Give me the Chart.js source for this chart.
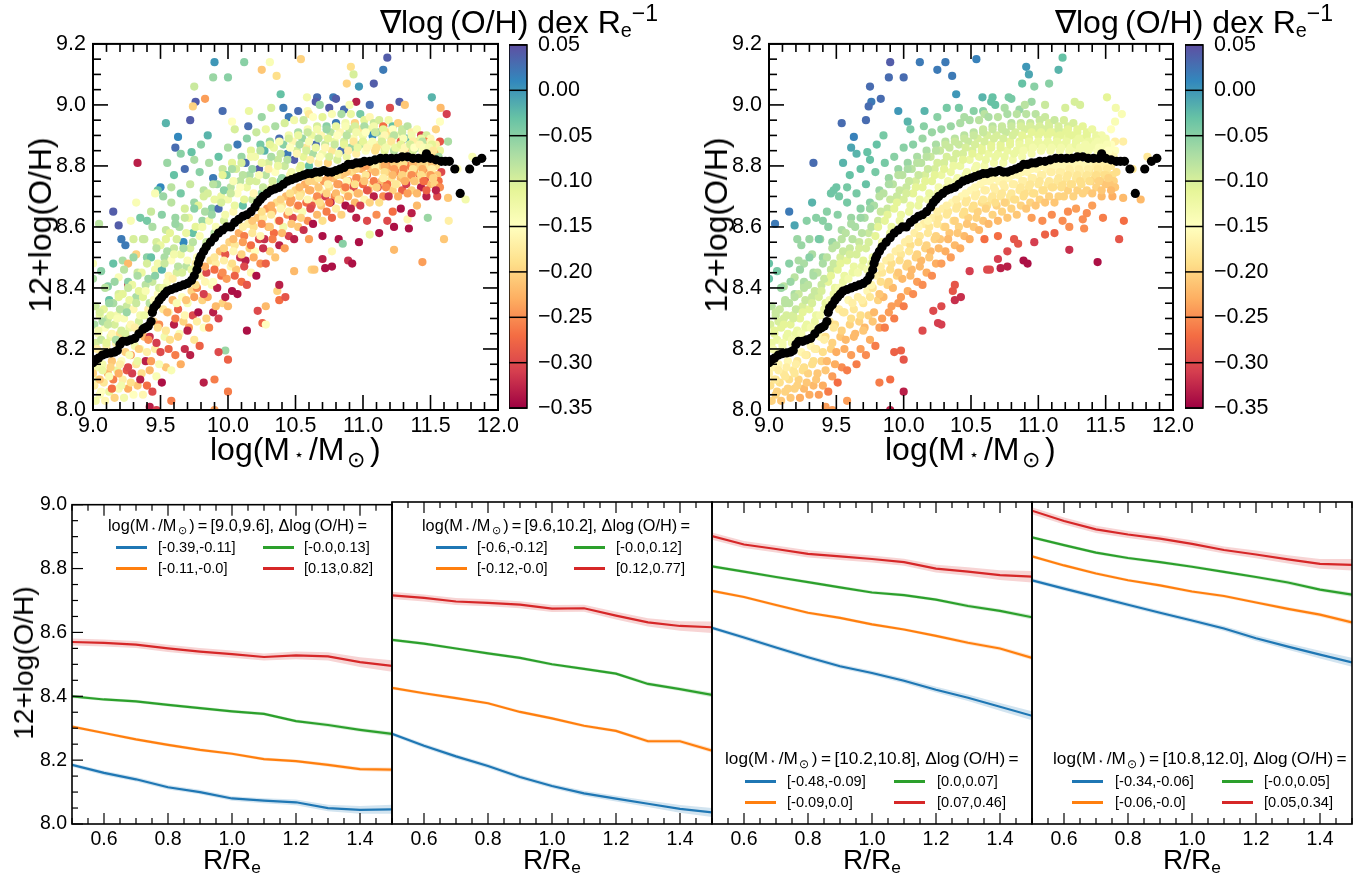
<!DOCTYPE html>
<html>
<head>
<meta charset="utf-8">
<script src="https://cdn.jsdelivr.net/npm/chart.js"></script>
<style>
body { margin: 0; background: #fff; font-family: "Liberation Sans", Arial, sans-serif; color: #000; }
#page { position: relative; width: 1369px; height: 877px; overflow: hidden; }
canvas { position: absolute; }
.txt { position: absolute; white-space: nowrap; line-height: 1; }
.txt sub { font-size: 62%; vertical-align: -0.22em; line-height: 0; }
.txt sub.star { font-size: 50%; vertical-align: 0; margin: 0 .28em; }
.txt sub.sun { font-size: 68%; vertical-align: -0.3em; margin: 0 .22em 0 .12em; }
.txt sup { font-size: 72%; vertical-align: 0.5em; line-height: 0; }
.rot { transform: translate(-50%, -50%) rotate(-90deg); }
.swatch { position: absolute; height: 2.5px; width: 31px; }
</style>
</head>
<body>
<div id="page"></div>
<script>
// scatter (same galaxies in both, coloured differently)
const logMass = [
9.90,10.12,10.31,10.54,10.25,10.36,9.89,10.00,9.75,10.91,
10.93,11.18,11.15,11.08,10.88,10.97,10.39,10.585,10.66,10.65,
10.68,10.78,10.80,9.83,9.76,9.74,10.95,10.86,11.27,11.31,
11.51,11.575,11.62,11.57,11.54,11.63,11.57,9.96,10.155,10.32,
10.41,10.52,10.59,9.72,10.03,9.54,9.63,9.61,9.65,9.73,
9.55,9.33,9.15,9.045,9.19,9.32,9.50,9.48,9.46,9.28,
9.35,9.21,9.24,9.38,9.00,9.06,9.00,9.22,9.26,9.32,
9.19,9.26,9.11,10.00,9.90,10.00,9.98,9.93,9.90,9.82,
10.14,10.255,10.28,10.22,10.28,10.38,10.425,10.365,10.38,10.49,
10.62,10.64,10.70,10.72,10.77,10.89,10.92,11.44,11.23,10.97,
10.77,10.82,10.85,11.05,11.12,11.60,11.635,11.48,11.34,11.33,
11.36,11.22,11.23,11.76,11.63,11.70,11.81,9.42,9.47,9.58,
10.95,11.03,11.10,11.18,11.28,11.40,11.47,11.55,10.60,10.70,
9.85,10.05,10.15,10.25,10.45,10.60,10.75,10.90,11.05,11.20,
9.60,9.68,9.75,9.80,9.58,9.52,9.43,9.40,9.30,9.15,
9.02,9.05,9.01,9.04,9.02,9.06,9.03,9.00,9.04,9.01,9.05,9.02,
9.09,9.12,9.08,9.11,9.09,9.13,9.10,9.07,9.11,9.08,9.12,9.09,
9.16,9.19,9.15,9.18,9.16,9.20,9.17,9.14,9.18,9.15,9.19,9.16,
9.23,9.26,9.22,9.25,9.23,9.27,9.24,9.21,9.25,9.22,9.26,9.23,
9.30,9.33,9.29,9.32,9.30,9.34,9.31,9.28,9.32,9.29,9.33,9.30,
9.37,9.40,9.36,9.39,9.37,9.41,9.38,9.35,9.39,9.36,9.40,9.37,
9.44,9.47,9.43,9.46,9.44,9.48,9.45,9.42,9.46,9.43,9.47,9.44,
9.51,9.54,9.50,9.53,9.51,9.55,9.52,9.49,9.53,9.50,9.54,9.51,
9.58,9.61,9.57,9.60,9.58,9.62,9.59,9.56,9.60,9.57,9.61,9.58,
9.65,9.68,9.64,9.67,9.65,9.69,9.66,9.63,9.67,9.64,9.68,9.65,
9.72,9.75,9.71,9.74,9.72,9.76,9.73,9.70,9.74,9.71,9.75,9.72,
9.79,9.82,9.78,9.81,9.79,9.83,9.80,9.77,9.81,9.78,9.82,9.79,
9.86,9.89,9.85,9.88,9.86,9.90,9.87,9.84,9.88,9.85,9.89,9.86,
9.93,9.96,9.92,9.95,9.93,9.97,9.94,9.91,9.95,9.92,9.96,9.93,
10.00,10.03,9.99,10.02,10.00,10.04,10.01,9.98,10.02,9.99,10.03,10.00,
10.07,10.10,10.06,10.09,10.07,10.11,10.08,10.05,10.09,10.06,10.10,10.07,
10.14,10.17,10.13,10.16,10.14,10.18,10.15,10.12,10.16,10.13,10.17,10.14,
10.21,10.24,10.20,10.23,10.21,10.25,10.22,10.19,10.23,10.20,10.24,10.21,
10.28,10.31,10.27,10.30,10.28,10.32,10.29,10.26,10.30,10.27,10.31,10.28,
10.35,10.38,10.34,10.37,10.35,10.39,10.36,10.33,10.37,10.34,10.38,10.35,
10.42,10.45,10.41,10.44,10.42,10.46,10.43,10.40,10.44,10.41,10.45,10.42,
10.49,10.52,10.48,10.51,10.49,10.53,10.50,10.47,10.51,10.48,10.52,10.49,
10.56,10.59,10.55,10.58,10.56,10.60,10.57,10.54,10.58,10.55,10.59,10.56,
10.63,10.66,10.62,10.65,10.63,10.67,10.64,10.61,10.65,10.62,10.66,10.63,
10.70,10.73,10.69,10.72,10.70,10.74,10.71,10.68,10.72,10.69,10.73,10.70,
10.77,10.80,10.76,10.79,10.77,10.81,10.78,10.75,10.79,10.76,10.80,10.77,
10.84,10.87,10.83,10.86,10.84,10.88,10.85,10.82,10.86,10.83,10.87,10.84,
10.91,10.94,10.90,10.93,10.91,10.95,10.92,10.89,10.93,10.90,10.94,10.91,
10.98,11.01,10.97,11.00,10.98,11.02,10.99,10.96,11.00,10.97,11.01,10.98,
11.05,11.08,11.04,11.07,11.05,11.09,11.06,11.03,11.07,11.04,11.08,11.05,
11.12,11.15,11.11,11.14,11.12,11.16,11.13,11.10,11.14,11.11,11.15,11.12,
11.19,11.22,11.18,11.21,11.19,11.23,11.20,11.17,11.21,11.18,11.22,11.19,
11.26,11.29,11.25,11.28,11.26,11.30,11.27,11.24,11.28,11.25,11.29,11.26,
11.33,11.36,11.32,11.35,11.33,11.37,11.34,11.31,11.35,11.32,11.36,11.33,
11.40,11.43,11.39,11.42,11.40,11.44,11.41,11.38,11.42,11.39,11.43,11.40,
11.47,11.50,11.46,11.49,11.47,11.51,11.48,11.45,11.49,11.46,11.50,11.47,
11.54,11.57,11.53,11.56,11.54,11.58,11.55,11.52,11.56,11.53,11.57,11.54,
9.05,9.07,9.04,9.06,9.03,9.07,9.05,9.06,
9.12,9.13,9.11,9.14,9.10,9.13,9.12,9.14,
9.19,9.20,9.18,9.21,9.17,9.20,9.19,9.21,
9.26,9.27,9.25,9.28,9.24,9.27,9.26,9.28,
9.33,9.34,9.32,9.35,9.31,9.34,9.33,9.35,
9.40,9.41,9.39,9.42,9.38,9.41,9.40,9.42,
9.47,9.48,9.46,9.49,9.45,9.48,9.47,9.49,
9.54,9.55,9.53,9.56,9.52,9.55,9.54,9.56,
9.61,9.62,9.60,9.63,9.59,9.62,9.61,9.63,
9.68,9.69,9.67,9.70,9.66,9.69,9.68,9.70,
9.75,9.76,9.74,9.77,9.73,9.76,9.75,9.77,
9.82,9.83,9.81,9.84,9.83,9.83,9.82,9.84,
9.89,9.90,9.88,9.91,9.90,9.90,9.89,9.91,
9.96,9.97,9.95,9.98,9.97,9.97,9.96,9.98,
10.03,10.04,10.02,10.05,10.04,10.04,10.03,10.05,
10.10,10.11,10.09,10.12,10.11,10.11,10.10,10.12,
10.17,10.18,10.16,10.19,10.18,10.18,10.17,10.19,
10.24,10.25,10.23,10.26,10.25,10.25,10.24,10.26,
10.31,10.32,10.30,10.33,10.32,10.32,10.31,10.33,
10.38,10.39,10.37,10.40,10.39,10.39,10.38,10.40,
10.45,10.46,10.44,10.47,10.46,10.46,10.45,10.47,
10.52,10.53,10.51,10.54,10.53,10.53,10.52,10.54,
10.59,10.60,10.58,10.61,10.60,10.60,10.59,10.61,
10.66,10.67,10.65,10.68,10.67,10.67,10.66,10.68,
10.73,10.74,10.72,10.75,10.74,10.74,10.73,10.75,
10.80,10.81,10.79,10.82,10.81,10.81,10.80,10.82,
10.87,10.88,10.86,10.89,10.88,10.88,10.87,10.89,
10.94,10.95,10.93,10.96,10.95,10.95,10.94,10.96,
11.01,11.02,11.00,11.03,11.02,11.02,11.01,11.03,
11.08,11.09,11.07,11.10,11.09,11.09,11.08,11.10,
11.15,11.16,11.14,11.17,11.16,11.16,11.15,11.17,
11.22,11.23,11.21,11.24,11.23,11.23,11.22,11.24,
11.29,11.30,11.28,11.31,11.30,11.30,11.29,11.31,
11.36,11.37,11.35,11.38,11.37,11.37,11.36,11.38,
11.43,11.44,11.42,11.45,11.44,11.44,11.43,11.45,
11.50,11.51,11.49,11.52,11.51,11.51,11.50,11.52
];
const logOH = [
9.14,9.14,9.14,9.15,9.115,9.095,9.09,9.09,9.06,9.125,
9.10,9.155,9.115,9.07,9.07,9.06,9.035,9.025,9.025,9.01,
9.0,9.025,9.02,9.02,9.01,8.995,9.01,8.985,9.01,9.0,
9.025,8.99,8.97,8.945,8.92,8.88,8.88,8.98,8.98,8.99,
8.99,8.98,8.98,8.95,8.945,8.94,8.895,8.86,8.84,8.845,
8.81,8.81,8.65,8.61,8.605,8.68,8.73,8.72,8.71,8.62,
8.63,8.56,8.54,8.56,8.48,8.455,8.43,8.49,8.48,8.51,
8.435,8.41,8.405,8.06,8.0,8.165,8.195,8.19,8.10,8.09,
8.26,8.285,8.28,8.325,8.34,8.36,8.37,8.39,8.41,8.455,
8.46,8.46,8.495,8.465,8.47,8.49,8.48,8.485,8.525,8.55,
8.52,8.56,8.545,8.575,8.58,8.56,8.62,8.63,8.595,8.625,
8.645,8.65,8.60,8.69,8.695,8.79,8.83,8.01,8.00,8.03,
8.63,8.62,8.64,8.62,8.66,8.67,8.70,8.70,8.56,8.57,
8.90,8.92,8.93,8.96,8.96,8.97,8.99,9.0,9.0,8.99,
8.77,8.79,8.82,8.87,8.73,8.70,8.65,8.62,8.56,8.48,
8.34,8.31,8.28,8.25,8.22,8.19,8.14,8.12,8.10,8.08,8.05,8.03,
8.40,8.36,8.33,8.30,8.27,8.24,8.21,8.15,8.12,8.09,8.06,8.03,
8.42,8.38,8.35,8.31,8.28,8.25,8.22,8.16,8.13,8.10,8.07,8.04,
8.46,8.42,8.38,8.34,8.30,8.27,8.19,8.16,8.13,8.10,8.07,8.04,
8.50,8.45,8.41,8.37,8.33,8.29,8.21,8.18,8.15,8.12,8.08,8.05,
8.56,8.50,8.45,8.41,8.37,8.33,8.24,8.20,8.16,8.12,8.08,8.05,
8.60,8.55,8.50,8.46,8.42,8.38,8.29,8.24,8.20,8.16,8.11,8.06,
8.64,8.59,8.54,8.50,8.46,8.42,8.33,8.28,8.24,8.19,8.14,8.09,
8.68,8.63,8.58,8.53,8.49,8.45,8.36,8.32,8.28,8.23,8.18,8.13,
8.71,8.66,8.60,8.55,8.51,8.47,8.37,8.33,8.29,8.25,8.20,8.15,
8.74,8.68,8.63,8.58,8.53,8.48,8.39,8.35,8.31,8.27,8.23,8.18,
8.78,8.72,8.67,8.62,8.57,8.53,8.44,8.40,8.36,8.32,8.27,8.21,
8.81,8.76,8.71,8.66,8.62,8.58,8.49,8.45,8.41,8.37,8.32,8.27,
8.83,8.79,8.74,8.70,8.66,8.62,8.52,8.48,8.44,8.40,8.35,8.30,
8.86,8.81,8.77,8.73,8.69,8.65,8.55,8.51,8.47,8.43,8.39,8.34,
8.87,8.83,8.79,8.75,8.71,8.67,8.58,8.54,8.50,8.46,8.42,8.38,
8.89,8.85,8.81,8.77,8.73,8.69,8.61,8.57,8.53,8.49,8.45,8.41,
8.91,8.87,8.83,8.79,8.75,8.71,8.63,8.60,8.56,8.52,8.48,8.44,
8.92,8.88,8.85,8.81,8.77,8.73,8.66,8.63,8.60,8.56,8.52,8.48,
8.93,8.89,8.86,8.82,8.78,8.75,8.68,8.65,8.62,8.58,8.54,8.50,
8.94,8.90,8.87,8.84,8.80,8.77,8.70,8.67,8.64,8.60,8.57,8.53,
8.95,8.91,8.88,8.85,8.82,8.79,8.72,8.69,8.66,8.63,8.60,8.56,
8.95,8.92,8.89,8.86,8.83,8.80,8.74,8.71,8.68,8.65,8.62,8.59,
8.96,8.93,8.90,8.87,8.84,8.81,8.75,8.72,8.69,8.67,8.64,8.61,
8.96,8.93,8.90,8.87,8.84,8.81,8.75,8.72,8.70,8.67,8.65,8.62,
8.97,8.94,8.91,8.88,8.85,8.82,8.76,8.73,8.70,8.68,8.66,8.63,
8.97,8.94,8.91,8.88,8.85,8.83,8.77,8.74,8.72,8.69,8.67,8.64,
8.97,8.94,8.92,8.89,8.86,8.84,8.78,8.75,8.73,8.71,8.68,8.66,
8.97,8.95,8.92,8.90,8.87,8.85,8.79,8.76,8.74,8.71,8.69,8.67,
8.96,8.94,8.92,8.90,8.87,8.85,8.79,8.77,8.74,8.72,8.70,8.68,
8.95,8.93,8.91,8.89,8.87,8.85,8.80,8.78,8.75,8.73,8.70,8.68,
8.95,8.93,8.91,8.89,8.87,8.85,8.80,8.78,8.76,8.74,8.72,8.70,
8.94,8.92,8.90,8.88,8.86,8.85,8.80,8.78,8.76,8.74,8.72,8.70,
8.93,8.91,8.89,8.87,8.86,8.85,8.80,8.78,8.76,8.74,8.72,8.71,
8.92,8.90,8.88,8.87,8.86,8.85,8.80,8.78,8.76,8.75,8.73,8.71,
8.90,8.89,8.88,8.87,8.86,8.85,8.80,8.78,8.77,8.75,8.74,8.72,
8.87,8.85,8.84,8.83,8.80,8.78,8.77,8.76,8.75,8.74,8.73,8.72,
8.32,8.29,8.26,8.23,8.20,8.13,8.10,8.06,
8.35,8.31,8.28,8.25,8.22,8.14,8.11,8.07,
8.37,8.33,8.30,8.26,8.23,8.15,8.12,8.08,
8.40,8.36,8.32,8.28,8.25,8.18,8.14,8.09,
8.44,8.39,8.35,8.31,8.27,8.20,8.16,8.10,
8.48,8.43,8.39,8.35,8.31,8.23,8.19,8.13,
8.53,8.48,8.44,8.40,8.36,8.27,8.22,8.15,
8.56,8.52,8.48,8.44,8.40,8.32,8.26,8.20,
8.61,8.56,8.51,8.47,8.43,8.35,8.30,8.24,
8.63,8.58,8.53,8.49,8.45,8.36,8.31,8.26,
8.66,8.60,8.55,8.50,8.46,8.41,8.37,8.29,
8.70,8.65,8.60,8.55,8.47,8.42,8.38,8.30,
8.74,8.69,8.64,8.60,8.50,8.46,8.42,8.34,
8.77,8.72,8.68,8.64,8.53,8.49,8.45,8.37,
8.79,8.75,8.71,8.67,8.56,8.52,8.48,8.44,
8.81,8.77,8.73,8.69,8.60,8.55,8.51,8.47,
8.83,8.79,8.75,8.71,8.62,8.58,8.54,8.50,
8.85,8.81,8.77,8.73,8.65,8.61,8.57,8.53,
8.87,8.83,8.79,8.75,8.67,8.64,8.60,8.56,
8.88,8.84,8.80,8.76,8.69,8.66,8.62,8.58,
8.89,8.86,8.82,8.78,8.71,8.68,8.65,8.61,
8.90,8.87,8.84,8.80,8.73,8.70,8.67,8.63,
8.91,8.88,8.85,8.82,8.75,8.72,8.69,8.66,
8.92,8.89,8.86,8.83,8.76,8.73,8.70,8.68,
8.92,8.89,8.86,8.83,8.76,8.74,8.71,8.68,
8.93,8.90,8.87,8.84,8.77,8.74,8.71,8.69,
8.93,8.90,8.87,8.85,8.78,8.75,8.73,8.70,
8.93,8.91,8.88,8.86,8.79,8.76,8.74,8.71,
8.93,8.91,8.88,8.86,8.80,8.77,8.75,8.72,
8.93,8.91,8.88,8.86,8.80,8.78,8.75,8.73,
8.92,8.90,8.88,8.86,8.80,8.78,8.76,8.73,
8.92,8.90,8.88,8.86,8.81,8.79,8.77,8.74,
8.91,8.89,8.87,8.86,8.81,8.79,8.77,8.75,
8.90,8.88,8.87,8.86,8.81,8.79,8.77,8.75,
8.89,8.88,8.87,8.86,8.81,8.79,8.77,8.75,
8.88,8.87,8.86,8.85,8.81,8.79,8.77,8.76
];
// gradient colour in the left panel
const gradMixed = [
0,-.05,-.14,-.2,-.21,-.19,-.06,-.05,-.09,-.19,
-.1,.04,.02,.04,-.2,0,-.03,-.13,.03,.04,
-.06,.02,.04,-.24,.04,-.2,-.33,.03,.04,-.21,
-.02,-.22,-.31,-.15,-.2,-.07,-.29,.03,-.12,-.1,
.02,.03,-.14,.04,-.15,-.02,.01,.03,-.05,-.03,
-.06,-.33,.04,-.08,.04,-.14,.01,-.03,-.14,-.14,
-.04,.02,.02,-.09,-.14,-.05,-.07,-.07,-.22,-.2,
-.14,-.32,-.05,-.26,-.24,-.28,-.06,-.3,-.26,-.33,
-.34,-.28,-.15,-.3,-.22,-.27,-.29,-.2,-.33,-.22,
-.2,-.21,-.33,-.34,-.34,-.32,-.34,-.24,-.22,-.34,
-.16,-.34,-.05,-.12,-.34,-.21,-.17,-.06,-.34,-.16,
-.33,-.27,-.34,-.13,-.21,-.15,-.14,-.33,-.31,-.26,
-.33,-.3,-.25,-.3,-.34,-.22,-.33,-.3,-.24,-.34,
-.02,-.1,.03,-.06,.02,-.18,.04,-.14,.03,-.3,
-.03,.03,-.07,-.05,-.08,-.06,-.09,-.04,-.1,-.03,
-.09,-.12,-.07,-.14,-.1,-.16,-.13,-.2,-.11,-.17,-.14,-.13,
-.08,-.03,-.11,-.09,-.15,-.12,-.17,-.13,-.22,-.18,-.12,-.16,
-.06,-.1,-.07,-.13,-.1,-.19,-.16,-.21,-.12,-.26,-.14,-.2,
-.08,-.05,-.11,-.09,-.14,-.12,-.2,-.15,-.29,-.17,-.23,-.13,
-.06,-.09,-.12,-.07,-.16,-.1,-.13,-.24,-.18,-.31,-.21,-.15,
-.09,-.05,-.12,-.08,-.11,-.17,-.22,-.14,-.33,-.19,-.27,-.16,
-.07,-.1,-.03,-.13,-.09,-.15,-.2,-.32,-.17,-.24,-.14,-.3,
-.05,-.09,-.12,-.07,-.02,-.14,-.18,-.25,-.13,-.3,-.21,-.34,
-.08,-.06,-.11,-.09,-.15,-.1,-.22,-.16,-.33,-.19,-.26,-.14,
-.04,-.1,-.07,.01,-.12,-.08,-.15,-.28,-.2,-.14,-.32,-.23,
-.09,-.06,-.12,-.03,-.1,-.17,-.2,-.14,-.3,-.24,-.18,-.33,
-.05,-.08,-.11,-.06,-.14,-.09,-.16,-.25,-.2,-.34,-.15,-.28,
-.07,.02,-.1,-.05,-.13,-.08,-.19,-.3,-.14,-.23,-.33,-.26,
-.03,-.09,-.06,-.12,.03,-.1,-.22,-.17,-.27,-.33,-.2,-.31,
-.07,-.11,-.04,-.08,-.13,-.16,-.2,-.29,-.16,-.24,-.34,-.22,
.02,-.06,-.1,-.08,-.15,-.03,-.23,-.18,-.32,-.21,-.27,-.34,
-.05,-.11,.03,-.07,-.12,-.09,-.17,-.26,-.2,-.33,-.16,-.29,
-.09,-.04,-.13,.04,-.1,-.06,-.21,-.19,-.3,-.15,-.25,-.34,
-.12,-.06,-.02,-.1,-.08,-.14,-.24,-.17,-.22,-.32,-.2,-.28,
-.07,.03,-.12,-.09,-.15,-.05,-.19,-.23,-.16,-.27,-.33,-.21,
-.1,-.13,-.05,.02,-.09,-.16,-.22,-.18,-.25,-.13,-.31,-.24,
-.13,-.07,-.16,-.1,.04,-.12,-.2,-.24,-.17,-.3,-.21,-.33,
-.09,-.14,-.06,-.18,-.11,-.03,-.23,-.19,-.27,-.14,-.25,-.32,
-.15,-.1,-.12,.03,-.07,-.17,-.2,-.23,-.18,-.29,-.22,-.34,
-.11,-.05,-.16,-.09,-.13,-.2,-.24,-.17,-.31,-.21,-.26,-.19,
-.14,.02,-.08,-.12,-.18,-.1,-.22,-.19,-.25,-.33,-.17,-.28,
-.07,-.13,-.16,-.1,.03,-.12,-.21,-.25,-.18,-.23,-.34,-.2,
-.12,-.2,-.09,-.14,-.06,-.17,-.19,-.24,-.3,-.16,-.22,-.33,
-.04,-.11,-.18,-.13,-.08,-.15,-.23,-.2,-.27,-.21,-.16,-.31,
-.16,-.09,-.12,.01,-.14,-.19,-.21,-.26,-.18,-.24,-.33,-.2,
-.1,-.27,-.06,-.13,-.17,-.11,-.2,-.17,-.22,-.29,-.25,-.19,
-.13,-.03,-.19,-.1,-.15,-.08,-.24,-.21,-.18,-.27,-.2,-.32,
-.2,-.09,-.14,-.29,-.12,-.16,-.19,-.25,-.22,-.17,-.28,-.23,
-.08,-.17,-.02,-.13,-.22,-.1,-.26,-.18,-.21,-.31,-.2,-.24,
-.14,-.31,-.11,-.19,-.07,-.15,-.2,-.23,-.27,-.18,-.33,-.22,
-.1,-.16,-.26,-.09,-.2,-.13,-.18,-.25,-.19,-.3,-.22,-.28,
-.17,-.12,-.23,-.07,-.19,-.3,-.21,-.16,-.27,-.2,-.25,-.33,
-.1,-.07,-.13,-.09,-.17,-.12,-.21,-.15,
-.06,-.12,-.09,-.16,-.11,-.2,-.14,-.27,
-.11,-.08,-.14,-.1,-.07,-.17,-.23,-.13,
-.09,-.12,-.06,-.16,-.1,-.14,-.3,-.19,
-.07,-.11,-.09,-.13,-.17,-.2,-.12,-.33,
-.1,-.06,-.14,-.08,-.12,-.25,-.17,-.22,
-.08,-.13,-.05,-.1,-.15,-.19,-.31,-.14,
-.11,-.07,-.09,-.16,-.12,-.22,-.18,-.28,
-.06,-.1,-.13,-.08,-.17,-.14,-.26,-.2,
-.09,-.12,-.07,-.14,-.1,-.21,-.16,-.33,
-.05,-.11,-.08,-.15,-.12,-.19,-.24,-.17,
-.1,-.07,-.13,-.09,-.23,-.16,-.31,-.2,
-.08,-.12,-.06,-.14,-.18,-.27,-.15,-.22,
-.11,-.05,-.1,-.13,-.2,-.17,-.25,-.33,
-.07,-.14,-.09,-.12,-.22,-.16,-.19,-.28,
-.1,-.08,-.15,-.11,-.17,-.24,-.2,-.3,
-.13,-.06,-.1,-.16,-.21,-.18,-.27,-.23,
-.08,-.12,-.14,-.09,-.19,-.25,-.16,-.32,
-.11,-.07,-.17,-.1,-.23,-.18,-.21,-.26,
-.14,-.09,-.12,-.06,-.2,-.16,-.28,-.22,
-.1,-.15,-.08,-.13,-.19,-.24,-.17,-.21,
-.12,-.07,-.16,-.11,-.22,-.18,-.26,-.2,
-.09,-.14,-.1,-.17,-.2,-.23,-.16,-.3,
-.13,-.08,-.12,-.15,-.18,-.21,-.25,-.19,
-.06,-.11,-.16,-.1,-.23,-.17,-.2,-.27,
-.12,-.15,-.09,-.13,-.19,-.24,-.22,-.18,
-.14,-.08,-.11,-.17,-.21,-.16,-.26,-.23,
-.1,-.13,-.18,-.12,-.2,-.25,-.19,-.22,
-.07,-.15,-.11,-.16,-.24,-.18,-.21,-.29,
-.13,-.09,-.14,-.19,-.17,-.22,-.26,-.2,
-.11,-.16,-.1,-.13,-.23,-.19,-.17,-.25,
-.15,-.08,-.18,-.12,-.2,-.24,-.22,-.18,
-.09,-.14,-.11,-.16,-.19,-.26,-.2,-.23,
-.13,-.17,-.1,-.15,-.22,-.18,-.25,-.21,
-.12,-.08,-.16,-.14,-.2,-.23,-.19,-.27,
-.16,-.11,-.13,-.18,-.21,-.17,-.24,-.2
];
// gradient colour in the right panel
const gradOrdered = [
.04,.02,.02,.015,.02,.02,.03,.03,.03,0,
-.01,-.03,-.02,-.05,-.03,-.05,0,-.02,-.03,-.03,
-.03,-.04,-.04,.03,.02,.03,-.06,-.06,-.1,-.1,
-.11,-.13,-.14,-.14,-.15,-.17,-.17,0,-.02,-.04,
-.04,-.05,-.05,.03,-.02,.03,.015,-.01,-.02,-.03,
-.02,.03,.02,.02,-.01,-.02,-.035,-.035,-.035,-.05,
-.05,-.06,-.06,-.06,-.03,-.04,-.03,-.07,-.07,-.07,
-.08,-.08,-.08,-.33,-.33,-.29,-.28,-.28,-.27,-.26,
-.3,-.31,-.31,-.3,-.3,-.32,-.32,-.29,-.29,-.31,
-.3,-.3,-.31,-.33,-.33,-.34,-.34,-.34,-.32,-.31,
-.3,-.29,-.29,-.28,-.28,-.29,-.27,-.26,-.25,-.25,
-.25,-.25,-.25,-.22,-.22,-.18,-.18,-.24,-.24,-.24,
-.24,-.25,-.25,-.25,-.24,-.24,-.22,-.23,-.27,-.27,
-.04,-.04,-.05,-.05,-.07,-.08,-.07,-.08,-.09,-.1,
-.03,-.03,-.03,-.03,-.04,-.04,-.05,-.05,-.06,-.05,
-.08,-.09,-.10,-.11,-.12,-.13,-.16,-.17,-.18,-.19,-.20,-.2,
-.06,-.08,-.09,-.10,-.11,-.12,-.13,-.16,-.18,-.19,-.2,-.21,
-.06,-.07,-.08,-.10,-.11,-.12,-.13,-.16,-.18,-.19,-.2,-.21,
-.06,-.07,-.09,-.10,-.11,-.12,-.16,-.18,-.19,-.2,-.22,-.23,
-.05,-.07,-.08,-.09,-.11,-.12,-.16,-.18,-.19,-.2,-.22,-.23,
-.04,-.06,-.08,-.09,-.1,-.12,-.16,-.18,-.2,-.21,-.23,-.24,
-.05,-.06,-.08,-.09,-.11,-.12,-.17,-.19,-.2,-.22,-.24,-.26,
-.05,-.07,-.08,-.1,-.11,-.12,-.17,-.19,-.21,-.23,-.25,-.27,
-.04,-.06,-.08,-.09,-.11,-.12,-.16,-.18,-.2,-.22,-.24,-.26,
-.04,-.05,-.07,-.09,-.1,-.12,-.17,-.18,-.2,-.22,-.24,-.26,
-.03,-.05,-.07,-.09,-.10,-.12,-.16,-.18,-.2,-.22,-.23,-.25,
-.04,-.06,-.07,-.09,-.11,-.12,-.17,-.18,-.2,-.22,-.24,-.26,
-.04,-.06,-.08,-.09,-.11,-.12,-.17,-.18,-.2,-.22,-.24,-.26,
-.05,-.06,-.08,-.09,-.11,-.12,-.17,-.19,-.2,-.22,-.24,-.26,
-.05,-.06,-.08,-.09,-.1,-.12,-.17,-.18,-.2,-.22,-.23,-.26,
-.05,-.07,-.08,-.1,-.11,-.12,-.17,-.19,-.2,-.22,-.24,-.25,
-.06,-.07,-.08,-.1,-.11,-.13,-.17,-.18,-.2,-.22,-.23,-.25,
-.06,-.07,-.09,-.1,-.11,-.13,-.17,-.18,-.2,-.22,-.23,-.25,
-.06,-.08,-.09,-.1,-.12,-.13,-.17,-.18,-.19,-.21,-.23,-.24,
-.06,-.08,-.09,-.1,-.12,-.13,-.16,-.18,-.19,-.21,-.22,-.24,
-.07,-.08,-.09,-.1,-.12,-.13,-.16,-.18,-.19,-.2,-.22,-.23,
-.07,-.08,-.09,-.1,-.12,-.13,-.16,-.18,-.19,-.2,-.21,-.23,
-.08,-.09,-.1,-.11,-.12,-.13,-.16,-.17,-.19,-.2,-.21,-.22,
-.07,-.08,-.1,-.11,-.12,-.13,-.16,-.17,-.18,-.19,-.2,-.22,
-.08,-.09,-.1,-.11,-.12,-.13,-.16,-.17,-.18,-.2,-.2,-.22,
-.07,-.08,-.09,-.11,-.12,-.13,-.16,-.17,-.18,-.19,-.2,-.21,
-.08,-.09,-.1,-.11,-.12,-.13,-.16,-.17,-.18,-.19,-.2,-.21,
-.08,-.09,-.1,-.11,-.12,-.13,-.16,-.17,-.18,-.19,-.2,-.21,
-.08,-.09,-.1,-.11,-.12,-.13,-.16,-.17,-.18,-.19,-.2,-.21,
-.09,-.1,-.1,-.11,-.12,-.13,-.16,-.17,-.18,-.19,-.2,-.21,
-.09,-.1,-.11,-.11,-.12,-.13,-.16,-.17,-.18,-.19,-.2,-.21,
-.1,-.1,-.11,-.12,-.12,-.13,-.16,-.17,-.18,-.19,-.2,-.2,
-.1,-.11,-.11,-.12,-.13,-.13,-.16,-.17,-.18,-.19,-.2,-.2,
-.11,-.11,-.12,-.12,-.13,-.13,-.16,-.17,-.18,-.19,-.2,-.2,
-.12,-.12,-.13,-.13,-.14,-.14,-.17,-.18,-.19,-.2,-.2,-.21,
-.13,-.13,-.13,-.14,-.14,-.15,-.17,-.18,-.19,-.2,-.21,-.21,
-.15,-.15,-.16,-.16,-.18,-.19,-.19,-.2,-.2,-.21,-.21,-.22,
-.09,-.1,-.11,-.12,-.13,-.17,-.18,-.2,
-.08,-.1,-.11,-.12,-.13,-.17,-.18,-.2,
-.08,-.09,-.1,-.12,-.13,-.17,-.18,-.2,
-.08,-.09,-.11,-.12,-.13,-.17,-.19,-.21,
-.07,-.09,-.1,-.12,-.13,-.17,-.19,-.21,
-.07,-.09,-.1,-.11,-.13,-.17,-.19,-.21,
-.08,-.09,-.11,-.12,-.13,-.18,-.2,-.23,
-.08,-.09,-.11,-.12,-.13,-.18,-.2,-.23,
-.07,-.08,-.1,-.12,-.13,-.17,-.19,-.22,
-.06,-.08,-.1,-.11,-.13,-.17,-.19,-.21,
-.06,-.08,-.1,-.12,-.13,-.16,-.18,-.21,
-.08,-.09,-.11,-.13,-.17,-.19,-.21,-.24,
-.07,-.09,-.11,-.12,-.17,-.19,-.2,-.24,
-.08,-.09,-.11,-.12,-.17,-.19,-.21,-.24,
-.07,-.09,-.1,-.12,-.17,-.18,-.2,-.22,
-.08,-.09,-.11,-.12,-.16,-.19,-.2,-.22,
-.08,-.09,-.11,-.12,-.16,-.18,-.2,-.21,
-.08,-.1,-.11,-.13,-.17,-.18,-.2,-.22,
-.09,-.1,-.11,-.13,-.17,-.18,-.2,-.22,
-.09,-.1,-.12,-.13,-.17,-.18,-.2,-.21,
-.09,-.1,-.11,-.13,-.16,-.18,-.19,-.21,
-.09,-.1,-.11,-.13,-.16,-.17,-.19,-.2,
-.09,-.1,-.11,-.12,-.16,-.17,-.18,-.2,
-.09,-.1,-.11,-.12,-.16,-.17,-.18,-.19,
-.09,-.1,-.11,-.12,-.16,-.17,-.18,-.2,
-.09,-.1,-.11,-.12,-.16,-.17,-.18,-.19,
-.1,-.11,-.12,-.13,-.16,-.17,-.18,-.19,
-.1,-.11,-.12,-.13,-.16,-.17,-.18,-.19,
-.1,-.11,-.12,-.13,-.16,-.17,-.18,-.19,
-.1,-.11,-.12,-.13,-.16,-.17,-.18,-.19,
-.1,-.11,-.12,-.13,-.16,-.17,-.18,-.19,
-.11,-.11,-.12,-.13,-.16,-.17,-.18,-.19,
-.11,-.12,-.12,-.13,-.16,-.17,-.18,-.19,
-.11,-.12,-.13,-.13,-.16,-.17,-.18,-.19,
-.12,-.13,-.13,-.14,-.17,-.18,-.19,-.2,
-.13,-.14,-.14,-.15,-.17,-.18,-.19,-.2
];
// running median (black)
const medianMass = [9.0,9.02,9.04,9.07,9.1,9.13,9.16,9.18,9.2,9.22,9.25,9.28,9.31,9.34,9.37,9.39,9.41,9.43,9.44,9.45,9.47,9.49,9.51,9.53,9.55,9.58,9.61,9.64,9.67,9.7,9.73,9.75,9.77,9.78,9.79,9.8,9.82,9.84,9.87,9.9,9.93,9.96,9.99,10.02,10.05,10.08,10.11,10.14,10.17,10.2,10.22,10.24,10.26,10.29,10.32,10.35,10.38,10.41,10.44,10.47,10.5,10.53,10.56,10.59,10.62,10.65,10.68,10.71,10.74,10.77,10.8,10.83,10.86,10.89,10.92,10.95,10.98,11.01,11.05,11.09,11.13,11.17,11.21,11.25,11.29,11.33,11.37,11.41,11.45,11.47,11.5,11.54,11.58,11.61,11.64,11.68,11.72,11.79,11.84,11.88];
const medianOH = [8.155,8.165,8.17,8.18,8.185,8.187,8.19,8.195,8.215,8.225,8.225,8.23,8.235,8.25,8.265,8.27,8.275,8.29,8.32,8.335,8.345,8.36,8.37,8.38,8.39,8.395,8.4,8.405,8.41,8.415,8.425,8.44,8.46,8.48,8.495,8.505,8.52,8.535,8.55,8.565,8.58,8.59,8.6,8.6,8.615,8.625,8.635,8.64,8.65,8.665,8.68,8.69,8.7,8.71,8.72,8.725,8.73,8.74,8.75,8.755,8.76,8.765,8.77,8.775,8.775,8.78,8.78,8.785,8.78,8.78,8.785,8.79,8.795,8.805,8.805,8.81,8.81,8.815,8.815,8.82,8.825,8.825,8.825,8.825,8.83,8.83,8.825,8.825,8.825,8.84,8.825,8.82,8.815,8.815,8.815,8.79,8.71,8.79,8.815,8.825];

// radial profiles, one set per mass bin: blue, orange, green, red
const radius = [0.5,0.6,0.7,0.8,0.9,1.0,1.1,1.2,1.3,1.4,1.5];
const bin1Blue = [8.185,8.16,8.14,8.115,8.10,8.08,8.073,8.068,8.05,8.044,8.046];
const bin1Orange = [8.305,8.285,8.265,8.248,8.232,8.22,8.203,8.197,8.185,8.172,8.17];
const bin1Green = [8.40,8.39,8.384,8.373,8.363,8.353,8.345,8.322,8.31,8.295,8.282];
const bin1Red = [8.57,8.567,8.562,8.55,8.54,8.532,8.523,8.528,8.525,8.507,8.495];
const bin2Blue = [8.28,8.243,8.21,8.18,8.146,8.118,8.095,8.079,8.063,8.047,8.036];
const bin2Orange = [8.423,8.406,8.391,8.375,8.348,8.328,8.305,8.289,8.257,8.257,8.228];
const bin2Green = [8.572,8.56,8.545,8.53,8.516,8.496,8.482,8.467,8.435,8.419,8.401];
const bin2Red = [8.71,8.702,8.691,8.687,8.681,8.669,8.67,8.647,8.626,8.615,8.611];
const bin3Blue = [8.609,8.579,8.548,8.518,8.49,8.469,8.445,8.417,8.392,8.364,8.336];
const bin3Orange = [8.724,8.705,8.68,8.656,8.64,8.62,8.604,8.584,8.563,8.545,8.516];
const bin3Green = [8.8,8.784,8.767,8.751,8.735,8.719,8.711,8.697,8.677,8.662,8.642];
const bin3Red = [8.894,8.868,8.854,8.839,8.831,8.823,8.813,8.793,8.784,8.773,8.768];
const bin4Blue = [8.757,8.731,8.706,8.681,8.656,8.632,8.607,8.577,8.551,8.526,8.502];
const bin4Orange = [8.831,8.803,8.778,8.757,8.741,8.722,8.708,8.688,8.668,8.65,8.626];
const bin4Green = [8.89,8.866,8.843,8.826,8.813,8.799,8.783,8.767,8.75,8.728,8.712];
const bin4Red = [8.973,8.941,8.915,8.899,8.886,8.87,8.851,8.837,8.822,8.808,8.805];
// half width of the shaded band
const bandBlue = [.006,.007,.007,.007,.007,.007,.008,.009,.01,.012,.014];
const bandOrange = [.005,.005,.005,.005,.005,.005,.005,.005,.006,.006,.007];
const bandGreen = [.005,.005,.005,.005,.005,.005,.005,.005,.006,.006,.007];
const bandRed = [.011,.011,.011,.011,.011,.011,.011,.012,.013,.015,.018];

const seriesColors = ["#1f77b4", "#ff7f0e", "#2ca02c", "#d62728"];
const massRanges = ["[9.0,9.6]", "[9.6,10.2]", "[10.2,10.8]", "[10.8,12.0]"];
const legendRanges = [
    ["[-0.39,-0.11]", "[-0.11,-0.0]", "[-0.0,0.13]", "[0.13,0.82]"],
    ["[-0.6,-0.12]", "[-0.12,-0.0]", "[-0.0,0.12]", "[0.12,0.77]"],
    ["[-0.48,-0.09]", "[-0.09,0.0]", "[0.0,0.07]", "[0.07,0.46]"],
    ["[-0.34,-0.06]", "[-0.06,-0.0]", "[-0.0,0.05]", "[0.05,0.34]"]
];
const massTicks = [9.0,9.5,10.0,10.5,11.0,11.5,12.0];
const metalTicks = [8.0,8.2,8.4,8.6,8.8,9.0,9.2];
const colorTicks = [-0.35,-0.30,-0.25,-0.20,-0.15,-0.10,-0.05,0.00,0.05];
const radiusTicks = [0.6,0.8,1.0,1.2,1.4];
const profileTicks = [8.0,8.2,8.4,8.6,8.8,9.0];

const spectralStops = ["#9e0142","#d53e4f","#f46d43","#fdae61","#fee08b","#ffffbf","#e6f598","#abdda4","#66c2a5","#3288bd","#5e4fa2"];

function hexToRgb(h) {
    return [parseInt(h.substr(1, 2), 16), parseInt(h.substr(3, 2), 16), parseInt(h.substr(5, 2), 16)];
}

function spectral(v) {
    let t = (v + 0.35) / 0.4 * 10;
    t = Math.max(0, Math.min(9.999, t));
    const i = Math.floor(t);
    const a = hexToRgb(spectralStops[i]);
    const b = hexToRgb(spectralStops[i + 1]);
    const f = t - i;
    return `rgb(${a.map((c, k) => Math.round(c + (b[k] - c) * f)).join(",")})`;
}

// inward ticks on the box, and the box itself
const boxTicks = {
    id: "boxTicks",
    afterDatasetsDraw(chart, args, o) {
        const { ctx, chartArea: a, scales } = chart;
        ctx.save();
        ctx.strokeStyle = "#000";
        ctx.lineWidth = o.tickWidth;
        const line = (x1, y1, x2, y2) => {
            ctx.beginPath();
            ctx.moveTo(x1, y1);
            ctx.lineTo(x2, y2);
            ctx.stroke();
        };
        const walk = (from, to, step, cb) => {
            const n = Math.round((to - from) / step);
            for (let i = 0; i <= n; i++) cb(from + i * step);
        };
        walk(scales.x.min, scales.x.max, o.xMinor, v => {
            const major = Math.abs(v / o.xMajor - Math.round(v / o.xMajor)) < 1e-6;
            const len = major ? o.major : o.minor;
            const px = scales.x.getPixelForValue(v);
            line(px, a.bottom, px, a.bottom - len);
            line(px, a.top, px, a.top + len);
        });
        walk(scales.y.min, scales.y.max, o.yMinor, v => {
            const major = Math.abs(v / o.yMajor - Math.round(v / o.yMajor)) < 1e-6;
            const len = major ? o.major : o.minor;
            const py = scales.y.getPixelForValue(v);
            if (o.left) line(a.left, py, a.left + len, py);
            if (o.right) line(a.right, py, a.right - len, py);
        });
        ctx.lineWidth = o.frameWidth;
        ctx.strokeRect(a.left, a.top, a.right - a.left, a.bottom - a.top);
        ctx.restore();
    }
};

const page = document.getElementById("page");

function addCanvas(left, top, width, height) {
    const c = document.createElement("canvas");
    c.width = width;
    c.height = height;
    c.style.left = left + "px";
    c.style.top = top + "px";
    page.appendChild(c);
    return c;
}

function addText(html, left, top, size, extra) {
    const d = document.createElement("div");
    d.className = "txt" + (extra ? " " + extra : "");
    d.innerHTML = html;
    d.style.left = left + "px";
    d.style.top = top + "px";
    d.style.fontSize = size + "px";
    page.appendChild(d);
    return d;
}

function drawScatter(plotLeft, plotWidth, grads) {
    const yWidth = 93;
    new Chart(addCanvas(plotLeft - yWidth, 24, yWidth + plotWidth + 35, 416), {
        type: "scatter",
        data: {
            datasets: [
                {
                    data: medianMass.map((m, i) => ({ x: m, y: medianOH[i] })),
                    backgroundColor: "#000",
                    pointRadius: 4.6,
                    borderWidth: 0
                },
                {
                    data: logMass.map((m, i) => ({ x: m, y: logOH[i] })),
                    backgroundColor: grads.map(spectral),
                    pointRadius: 4.1,
                    borderWidth: 0
                }
            ]
        },
        options: {
            responsive: false,
            animation: false,
            layout: { padding: { top: 14, right: 35, left: 0, bottom: 0 } },
            plugins: {
                legend: { display: false },
                tooltip: { enabled: false },
                boxTicks: { xMajor: 0.5, xMinor: 0.1, yMajor: 0.2, yMinor: 0.05, major: 15, minor: 8, tickWidth: 1.6, frameWidth: 2, left: true, right: true }
            },
            scales: {
                x: {
                    type: "linear", min: 9, max: 12,
                    grid: { display: false, drawTicks: false }, border: { display: false },
                    afterBuildTicks: s => { s.ticks = massTicks.map(v => ({ value: v })); },
                    afterFit: s => { s.height = 30; },
                    ticks: { color: "#000", padding: 3, maxRotation: 0, font: { size: 21.5, family: "Liberation Sans" }, callback: v => v.toFixed(1) }
                },
                y: {
                    type: "linear", min: 8, max: 9.2,
                    grid: { display: false, drawTicks: false }, border: { display: false },
                    afterBuildTicks: s => { s.ticks = metalTicks.map(v => ({ value: v })); },
                    afterFit: s => { s.width = yWidth; },
                    ticks: { color: "#000", padding: 7, font: { size: 21.5, family: "Liberation Sans" }, callback: v => v.toFixed(1) }
                }
            }
        },
        plugins: [boxTicks]
    });
}

function drawColorbar(plotLeft) {
    const barTicks = {
        id: "barTicks",
        afterDatasetsDraw(chart) {
            const { ctx, chartArea: a, scales } = chart;
            ctx.save();
            ctx.strokeStyle = "#000";
            ctx.lineWidth = 1.5;
            colorTicks.forEach(v => {
                const py = scales.y.getPixelForValue(v);
                ctx.beginPath();
                ctx.moveTo(a.left, py);
                ctx.lineTo(a.right, py);
                ctx.stroke();
            });
            ctx.strokeRect(a.left, a.top, a.right - a.left, a.bottom - a.top);
            ctx.restore();
        }
    };
    new Chart(addCanvas(plotLeft, 21, 18 + 72, 411), {
        type: "bar",
        data: {
            labels: ["c"],
            datasets: [{
                data: [[-0.35, 0.05]],
                barPercentage: 1,
                categoryPercentage: 1,
                backgroundColor: ctx => {
                    const a = ctx.chart.chartArea;
                    if (!a) return "#fff";
                    const g = ctx.chart.ctx.createLinearGradient(0, a.bottom, 0, a.top);
                    spectralStops.forEach((c, i) => g.addColorStop(i / 10, c));
                    return g;
                }
            }]
        },
        options: {
            responsive: false,
            animation: false,
            layout: { padding: { top: 14, bottom: 14, left: 0, right: 0 } },
            plugins: { legend: { display: false }, tooltip: { enabled: false } },
            scales: {
                x: { display: false },
                y: {
                    position: "right", min: -0.35, max: 0.05,
                    grid: { display: false, drawTicks: false }, border: { display: false },
                    afterBuildTicks: s => { s.ticks = colorTicks.map(v => ({ value: v })); },
                    afterFit: s => { s.width = 72; },
                    ticks: { color: "#000", padding: 11, font: { size: 21.5, family: "Liberation Sans" }, callback: v => (v < -0.001 ? "\u2212" : "") + Math.abs(v).toFixed(2) }
                }
            }
        },
        plugins: [barTicks]
    });
}

function drawProfiles(plotLeft, profiles, showY) {
    const yWidth = 72;
    const bands = [bandBlue, bandOrange, bandGreen, bandRed];
    const datasets = [];
    profiles.forEach((vals, s) => {
        datasets.push({
            data: vals.map((v, i) => ({ x: radius[i], y: v })),
            borderColor: seriesColors[s], borderWidth: 2.2, pointRadius: 0, tension: 0, fill: false
        });
        datasets.push({
            data: vals.map((v, i) => ({ x: radius[i], y: v + bands[s][i] })),
            borderWidth: 0, pointRadius: 0, tension: 0,
            fill: "+1", backgroundColor: seriesColors[s] + "33"
        });
        datasets.push({
            data: vals.map((v, i) => ({ x: radius[i], y: v - bands[s][i] })),
            borderWidth: 0, pointRadius: 0, tension: 0, fill: false
        });
    });
    new Chart(addCanvas(plotLeft - yWidth, 488, yWidth + 320 + 20, 376), {
        type: "line",
        data: { datasets: datasets },
        options: {
            responsive: false,
            animation: false,
            layout: { padding: { top: 14, right: 20, left: 0, bottom: 0 } },
            plugins: {
                legend: { display: false },
                tooltip: { enabled: false },
                boxTicks: { xMajor: 0.2, xMinor: 0.05, yMajor: 0.2, yMinor: 0.05, major: 11, minor: 6, tickWidth: 1.2, frameWidth: 1.6, left: showY, right: false }
            },
            scales: {
                x: {
                    type: "linear", min: 0.5, max: 1.5,
                    grid: { display: false, drawTicks: false }, border: { display: false },
                    afterBuildTicks: s => { s.ticks = radiusTicks.map(v => ({ value: v })); },
                    afterFit: s => { s.height = 40; },
                    ticks: { color: "#000", padding: 4, maxRotation: 0, font: { size: 19.5, family: "Liberation Sans" }, callback: v => v.toFixed(1) }
                },
                y: {
                    type: "linear", min: 8, max: 9,
                    grid: { display: false, drawTicks: false }, border: { display: false },
                    afterBuildTicks: s => { s.ticks = profileTicks.map(v => ({ value: v })); },
                    afterFit: s => { s.width = yWidth; },
                    ticks: { display: showY, color: "#000", padding: 5, font: { size: 19.5, family: "Liberation Sans" }, callback: v => v.toFixed(1) }
                }
            }
        },
        plugins: [boxTicks]
    });
}

const massLabel = "log(M<sub class=\"star\">\u22C6</sub>/M<sub class=\"sun\">\u2299</sub>)";

function drawLegend(panel, titleX, titleY, size, swatch1, text1, swatch2, text2, row1, row2) {
    addText(`${massLabel}\u2009=\u2009${massRanges[panel]}, \u0394log\u2009(O/H)\u2009=`, titleX, titleY, size);
    legendRanges[panel].forEach((label, i) => {
        const y = i % 2 === 0 ? row1 : row2;
        const sx = i < 2 ? swatch1 : swatch2;
        const tx = i < 2 ? text1 : text2;
        const sw = document.createElement("div");
        sw.className = "swatch";
        sw.style.left = sx + "px";
        sw.style.top = (y - 1) + "px";
        sw.style.background = seriesColors[i];
        page.appendChild(sw);
        addText(label, tx, y - 7, 14.6);
    });
}

drawScatter(93, 405, gradMixed);
drawColorbar(509);
drawScatter(769, 404, gradOrdered);
drawColorbar(1185);

drawProfiles(72, [bin1Blue, bin1Orange, bin1Green, bin1Red], true);
drawProfiles(392, [bin2Blue, bin2Orange, bin2Green, bin2Red], false);
drawProfiles(712, [bin3Blue, bin3Orange, bin3Green, bin3Red], false);
drawProfiles(1032, [bin4Blue, bin4Orange, bin4Green, bin4Red], false);

const gradTitle = "\u2207log\u2009(O/H) dex R<sub>e</sub><sup>\u22121</sup>";
addText(gradTitle, 380, 6, 32);
addText(gradTitle, 1055, 6, 32);
addText(massLabel, 210, 433, 32);
addText(massLabel, 885, 433, 32);
addText("12+log(O/H)", 40, 225, 32, "rot");
addText("12+log(O/H)", 716, 225, 32, "rot");
addText("12+log(O/H)", 24, 663, 28, "rot");
["232", "552", "872", "1192"].forEach(x => {
    const d = addText("R/R<sub>e</sub>", +x, 846, 28);
    d.style.transform = "translateX(-50%)";
});

drawLegend(0, 108, 517, 16.3, 116, 158, 263, 304, 547, 568);
drawLegend(1, 422, 517, 16.3, 436, 477, 574, 616, 547, 568);
drawLegend(2, 725, 750, 17.2, 745, 787, 894, 937, 781, 802);
drawLegend(3, 1053, 750, 17.2, 1072, 1115, 1222, 1264, 781, 802);
</script>
</body>
</html>
